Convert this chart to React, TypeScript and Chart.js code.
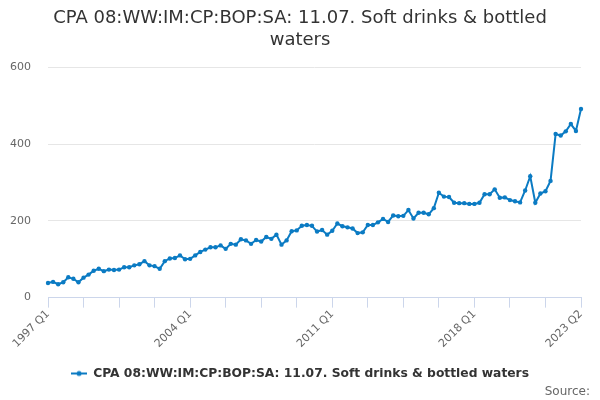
import React, { useEffect, useRef } from "react";
import { Chart, registerables } from "chart.js";
Chart.register(...registerables);

const seriesName = "CPA 08:WW:IM:CP:BOP:SA: 11.07. Soft drinks & bottled waters";
const titleLines = ["CPA 08:WW:IM:CP:BOP:SA: 11.07. Soft drinks & bottled", "waters"];

// 1997 Q1 .. 2023 Q2
const firstYear = 1997;
const values = [
    38, 41, 35, 40, 53, 49, 40, 52, 60, 70,
    75, 69, 73, 72, 73, 79, 79, 84, 87, 95,
    84, 82, 75, 95, 102, 103, 110, 100, 101, 110,
    119, 125, 131, 131, 136, 127, 140, 138, 152, 149,
    140, 150, 146, 158, 153, 164, 138, 149, 173, 175,
    187, 189, 187, 172, 176, 164, 174, 193, 186, 183,
    180, 168, 170, 189, 189, 196, 205, 197, 214, 212,
    213, 228, 206, 221, 221, 217, 233, 273, 263, 262,
    247, 246, 246, 244, 244, 247, 269, 269, 282, 260,
    261, 254, 251, 248, 279, 316, 247, 271, 277, 304,
    426, 422, 433, 452, 434, 491,
];
const quarters = values.map((_, i) => `${firstYear + Math.floor(i / 4)} Q${(i % 4) + 1}`);
const shownLabels = ["1997 Q1", "2004 Q1", "2011 Q1", "2018 Q1", "2023 Q2"];
const yTicks = [0, 200, 400, 600];

const blue = "#0b7bc3";
const font = "'DejaVu Sans', Verdana, sans-serif";

function legendMarker() {
    const c = document.createElement("canvas");
    c.width = 16;
    c.height = 8;
    const g = c.getContext("2d")!;
    g.strokeStyle = blue;
    g.lineWidth = 2;
    g.beginPath();
    g.moveTo(0, 4);
    g.lineTo(16, 4);
    g.stroke();
    g.fillStyle = blue;
    g.beginPath();
    g.arc(8, 4, 2.5, 0, Math.PI * 2);
    g.fill();
    return c;
}

export default function App() {
    const canvasRef = useRef<HTMLCanvasElement | null>(null);

    useEffect(() => {
        if (!canvasRef.current) return;
        const marker = legendMarker();

        const chart = new Chart(canvasRef.current, {
            type: "line",
            data: {
                labels: quarters,
                datasets: [
                    {
                        label: seriesName,
                        data: values,
                        borderColor: blue,
                        backgroundColor: blue,
                        borderWidth: 2,
                        pointRadius: 2.2,
                        pointBorderWidth: 0,
                        tension: 0,
                    },
                ],
            },
            options: {
                animation: false,
                responsive: true,
                maintainAspectRatio: false,
                layout: { padding: { left: 10, right: 10, top: 2, bottom: 0 } },
                plugins: {
                    title: {
                        display: true,
                        text: titleLines,
                        color: "#333333",
                        font: { family: font, size: 18, weight: "normal", lineHeight: 1.2 },
                        padding: { top: 6, bottom: 16 },
                    },
                    subtitle: {
                        display: true,
                        position: "bottom",
                        align: "end",
                        text: "Source:",
                        color: "#666666",
                        font: { family: font, size: 12 },
                        padding: { top: -5, bottom: 1 },
                    },
                    legend: {
                        position: "bottom",
                        labels: {
                            usePointStyle: true,
                            pointStyleWidth: 16,
                            color: "#333333",
                            font: { family: font, size: 12.3, weight: "bold" },
                            padding: 9,
                            generateLabels: (ch) =>
                                Chart.defaults.plugins.legend.labels
                                    .generateLabels(ch)
                                    .map((item) => ({ ...item, pointStyle: marker })),
                        },
                    },
                    tooltip: { enabled: false },
                },
                scales: {
                    x: {
                        type: "category",
                        offset: false,
                        border: { color: "#ccd6eb", width: 1 },
                        grid: {
                            drawOnChartArea: false,
                            tickLength: 10,
                            color: (ctx) => (ctx.index % 7 === 0 ? "#ccd6eb" : "transparent"),
                        },
                        afterFit: (axis) => {
                            axis.height += 8;
                        },
                        ticks: {
                            autoSkip: false,
                            minRotation: 45,
                            maxRotation: 45,
                            color: "#666666",
                            font: { family: font, size: 11 },
                            padding: 0,
                            callback: (_v, i) =>
                                shownLabels.includes(quarters[i]) ? quarters[i] : "",
                        },
                    },
                    y: {
                        min: 0,
                        max: 600,
                        border: { display: false },
                        grid: { color: "#e6e6e6", drawTicks: false },
                        afterBuildTicks: (axis) => {
                            axis.ticks = yTicks.map((v) => ({ value: v }));
                        },
                        afterFit: (axis) => {
                            axis.width = 38;
                        },
                        ticks: {
                            color: "#666666",
                            font: { family: font, size: 11 },
                            padding: 17,
                        },
                    },
                    // empty right-hand spacer so the plot stops where the reference does
                    y2: {
                        position: "right",
                        display: true,
                        border: { display: false },
                        grid: { display: false },
                        ticks: { display: false },
                        afterFit: (axis) => {
                            axis.width = 9;
                        },
                    },
                },
            },
        });

        return () => chart.destroy();
    }, []);

    return (
        <div style={{ position: "fixed", left: 0, top: 0, width: 600, height: 400 }}>
            <canvas ref={canvasRef} />
        </div>
    );
}
